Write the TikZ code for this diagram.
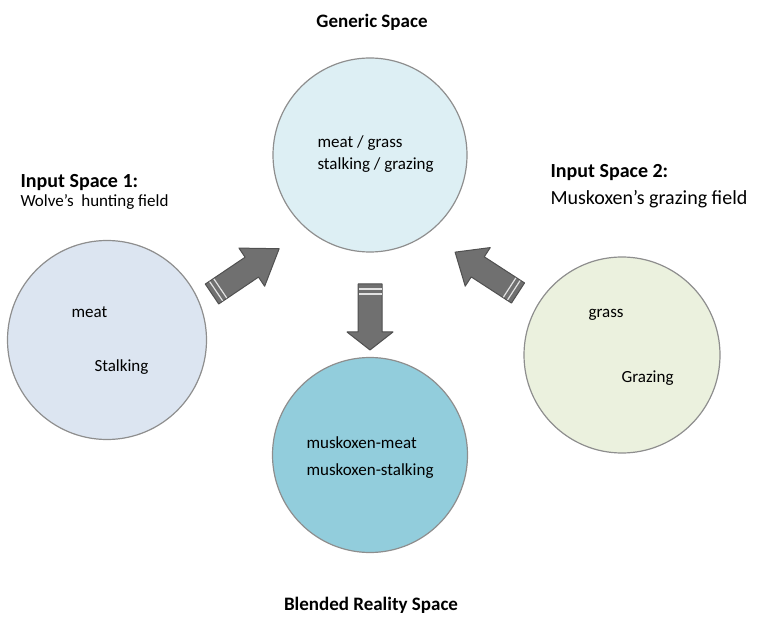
\documentclass[tikz,border=0pt]{standalone}
\usepackage{fontspec}
\setmainfont{Carlito}
\usepackage{tikz}

\definecolor{rim}{HTML}{8E8E8E}
\definecolor{genfill}{HTML}{DDEFF4}
\definecolor{infill}{HTML}{DCE5F1}
\definecolor{outfill}{HTML}{EBF1DE}
\definecolor{blendfill}{HTML}{92CDDC}
\definecolor{arrfill}{HTML}{707070}
\definecolor{arrrim}{HTML}{505050}

\tikzset{
  blockarrow/.pic={
    \fill[arrfill,draw=arrrim,line width=1pt,line join=round]
      (0,-12) -- (48,-12) -- (48,-23) -- (#1,0) -- (48,23) -- (48,12) -- (0,12) -- cycle;
    \draw[white!80!arrfill,line width=1.2pt] (5,-11.5) -- (5,11.5);
    \draw[white!80!arrfill,line width=1.2pt] (10,-11.5) -- (10,11.5);
  }
}

\begin{document}
\begin{tikzpicture}
  [x=1pt,y=-1pt,
   space/.style={circle,draw=rim,line width=1.2pt,inner sep=0pt,minimum size=#1},
   title/.style={font=\fontsize{19}{22}\selectfont\bfseries,anchor=base},
   head/.style={font=\fontsize{20}{24}\selectfont\bfseries,anchor=base west},
   note/.style={font=\fontsize{#1}{24}\selectfont,anchor=base west},
   item/.style={font=\fontsize{17}{20}\selectfont,anchor=base west}]
  \useasboundingbox (0,0) rectangle (760,617);

  % the four spaces
  \node[space=194pt,fill=genfill]   (generic) at (370,155) {};
  \node[space=199pt,fill=infill]    (input1)  at (107,340) {};
  \node[space=196pt,fill=outfill]   (input2)  at (622,355) {};
  \node[space=195pt,fill=blendfill] (blend)   at (370,455) {};

  % labels
  \node[title] (gentitle) at (372,28) {Generic Space};
  \node[title] (blendtitle) at (371,610) {Blended Reality Space};
  \node[head] (in1head) at (17,188) {Input Space 1:};
  \node[note=17] (in1note) at (17,207) {Wolve’s\ \ hunting field};
  \node[head] (in2head) at (547,178) {Input Space 2:};
  \node[note=20] (in2note) at (547,205) {Muskoxen’s grazing field};

  % contents
  \node[item] (g1) at (314,148) {meat / grass};
  \node[item] (g2) at (314,170) {stalking / grazing};
  \node[item] (a1) at (68,318) {meat};
  \node[item] (a2) at (91,371) {Stalking};
  \node[item] (b1) at (585,318) {grass};
  \node[item] (b2) at (618,382) {Grazing};
  \node[item] (c1) at (303,448) {muskoxen-meat};
  \node[item] (c2) at (303,475) {muskoxen-stalking};

  % block arrows
  \pic[rotate=34]  at (212,294) {blockarrow=81};
  \pic[rotate=147] at (518,293) {blockarrow=75};
  \pic[rotate=-90] at (370,284) {blockarrow=66};

\end{tikzpicture}
\end{document}
